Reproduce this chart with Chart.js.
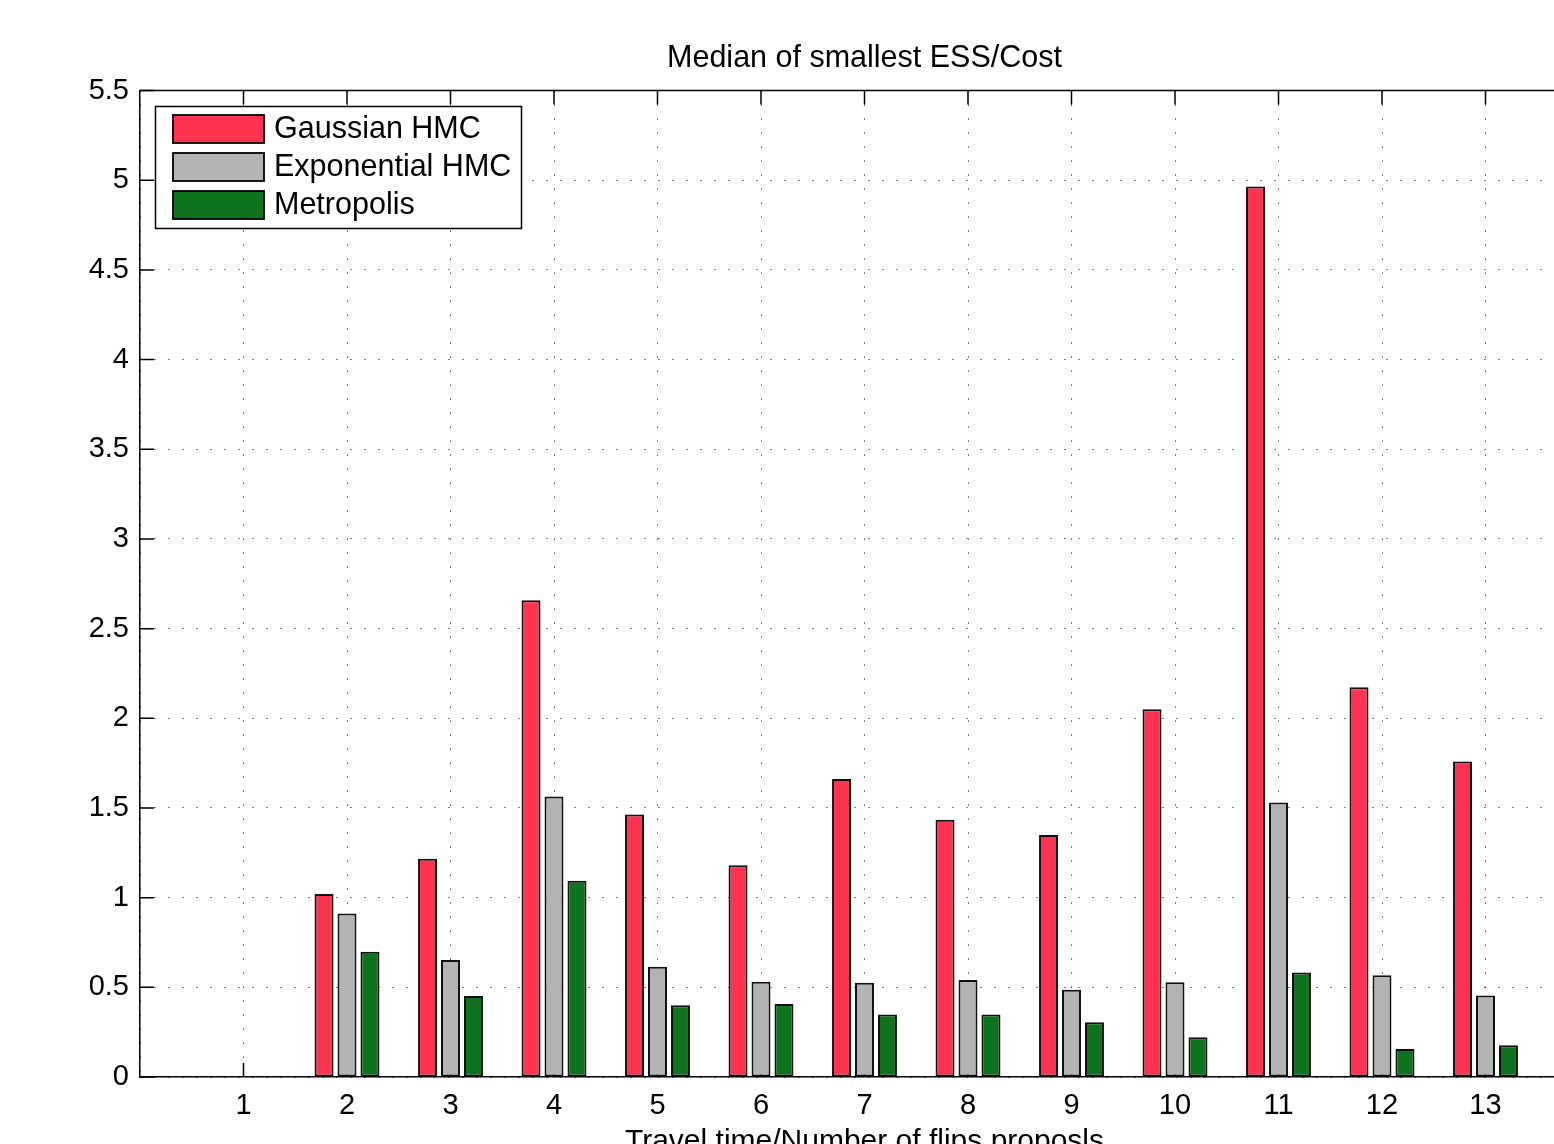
<!DOCTYPE html>
<html>
<head>
<meta charset="utf-8">
<title>Median of smallest ESS/Cost</title>
<script src="https://cdn.jsdelivr.net/npm/chart.js@4.4.1/dist/chart.umd.min.js"></script>
<style>
  html, body { margin: 0; padding: 0; background: #fff; overflow: hidden; }
  canvas { display: block; }
</style>
</head>
<body>
<canvas id="essChart" width="1650" height="1200"></canvas>
<script>
// values (bar heights)
const categories = ["1", "2", "3", "4", "5", "6", "7", "8", "9", "10", "11", "12", "13"];
const seriesNames = ["Gaussian HMC", "Exponential HMC", "Metropolis"];
const gaussianHMC = [0.003, 1.021, 1.217, 2.658, 1.464, 1.181, 1.661, 1.434, 1.349, 2.051, 4.965, 2.173, 1.759];
const exponentialHMC = [0.003, 0.912, 0.652, 1.564, 0.615, 0.531, 0.526, 0.541, 0.487, 0.529, 1.531, 0.567, 0.455];
const metropolis = [0.003, 0.698, 0.451, 1.094, 0.400, 0.407, 0.349, 0.349, 0.305, 0.221, 0.583, 0.156, 0.177];
const yTickLabels = ["0", "0.5", "1", "1.5", "2", "2.5", "3", "3.5", "4", "4.5", "5", "5.5"];

const COLORS = ["#ff3350", "#b3b3b3", "#0d731d"];
const FONT = "'Liberation Sans', Arial, Helvetica, sans-serif";
const TICK_LEN = 14;

// MATLAB axes run from 0 to 14, so pad the category list with empty ends
const axisLabels = ["", ...categories, ""];
const pad = (arr) => [null, ...arr, null];

// box on the top/right and inward tick marks, under the bars like MATLAB
const matlabFrame = {
  id: "matlabFrame",
  beforeDatasetsDraw(chart) {
    const { ctx, chartArea: a, scales: { x, y } } = chart;
    ctx.save();
    ctx.strokeStyle = "#000";
    ctx.lineWidth = 1.5;
    ctx.beginPath();
    y.ticks.forEach((t) => {
      const py = y.getPixelForValue(t.value);
      ctx.moveTo(a.left, py); ctx.lineTo(a.left + TICK_LEN, py);
      ctx.moveTo(a.right, py); ctx.lineTo(a.right - TICK_LEN, py);
    });
    categories.forEach((c, i) => {
      const px = x.getPixelForValue(i + 1);
      ctx.moveTo(px, a.bottom); ctx.lineTo(px, a.bottom - TICK_LEN);
      ctx.moveTo(px, a.top); ctx.lineTo(px, a.top + TICK_LEN);
    });
    ctx.stroke();
    ctx.restore();
  },
  afterDraw(chart) {
    const { ctx, chartArea: a } = chart;
    ctx.save();
    ctx.strokeStyle = "#000";
    ctx.lineWidth = 1.5;
    ctx.beginPath();
    ctx.moveTo(a.left, a.top); ctx.lineTo(a.right, a.top);
    ctx.moveTo(a.right, a.top); ctx.lineTo(a.right, a.bottom);
    ctx.stroke();

    // legend inside the axes, top left
    const lx = 155.5, ly = 106.5, lw = 366, lh = 122;
    ctx.fillStyle = "#fff";
    ctx.fillRect(lx, ly, lw, lh);
    ctx.strokeRect(lx, ly, lw, lh);
    ctx.font = "30.5px " + FONT;
    ctx.textBaseline = "middle";
    chart.data.datasets.forEach((ds, i) => {
      const sy = 115 + i * 38;
      ctx.fillStyle = ds.backgroundColor;
      ctx.fillRect(173, sy, 91, 28);
      ctx.lineWidth = 1.8;
      ctx.strokeRect(173, sy, 91, 28);
      ctx.fillStyle = "#000";
      ctx.fillText(ds.label, 274, sy + 15);
    });
    ctx.restore();
  },
};

new Chart(document.getElementById("essChart"), {
  type: "bar",
  data: {
    labels: axisLabels,
    datasets: [gaussianHMC, exponentialHMC, metropolis].map((vals, i) => ({
      label: seriesNames[i],
      data: pad(vals),
      backgroundColor: COLORS[i],
      borderColor: "#111",
      borderWidth: 2,
      borderSkipped: false,
      categoryPercentage: 0.666,
      barPercentage: 0.826,
    })),
  },
  options: {
    responsive: false,
    animation: false,
    layout: { padding: { left: 0, right: 61, top: 0, bottom: 0 } },
    plugins: {
      legend: { display: false },
      tooltip: { enabled: false },
      title: {
        display: true,
        fullSize: false,
        text: "Median of smallest ESS/Cost",
        color: "#000",
        font: { family: FONT, size: 30.5, weight: "normal" },
        padding: { top: 40, bottom: 14 },
      },
    },
    scales: {
      x: {
        offset: false,
        grid: { color: "#000", lineWidth: 1, drawTicks: false, offset: false },
        border: { color: "#000", width: 1.5, dash: [1, 13] },
        ticks: {
          color: "#000",
          padding: 12,
          maxRotation: 0,
          autoSkip: false,
          font: { family: FONT, size: 29 },
        },
        title: {
          display: true,
          text: "Travel time/Number of flips proposls",
          color: "#000",
          font: { family: FONT, size: 30 },
          padding: { top: 0, bottom: 40 },
        },
        afterFit(scale) { scale.height = 123; },
      },
      y: {
        min: 0,
        max: 5.5,
        grid: { color: "#000", lineWidth: 1, drawTicks: false },
        border: { color: "#000", width: 1.5, dash: [1, 13] },
        ticks: {
          stepSize: 0.5,
          color: "#000",
          padding: 11,
          font: { family: FONT, size: 29 },
          callback: (v, i) => yTickLabels[i],
        },
        afterFit(scale) { scale.width = 140; },
      },
    },
  },
  plugins: [matlabFrame],
});
</script>
</body>
</html>
